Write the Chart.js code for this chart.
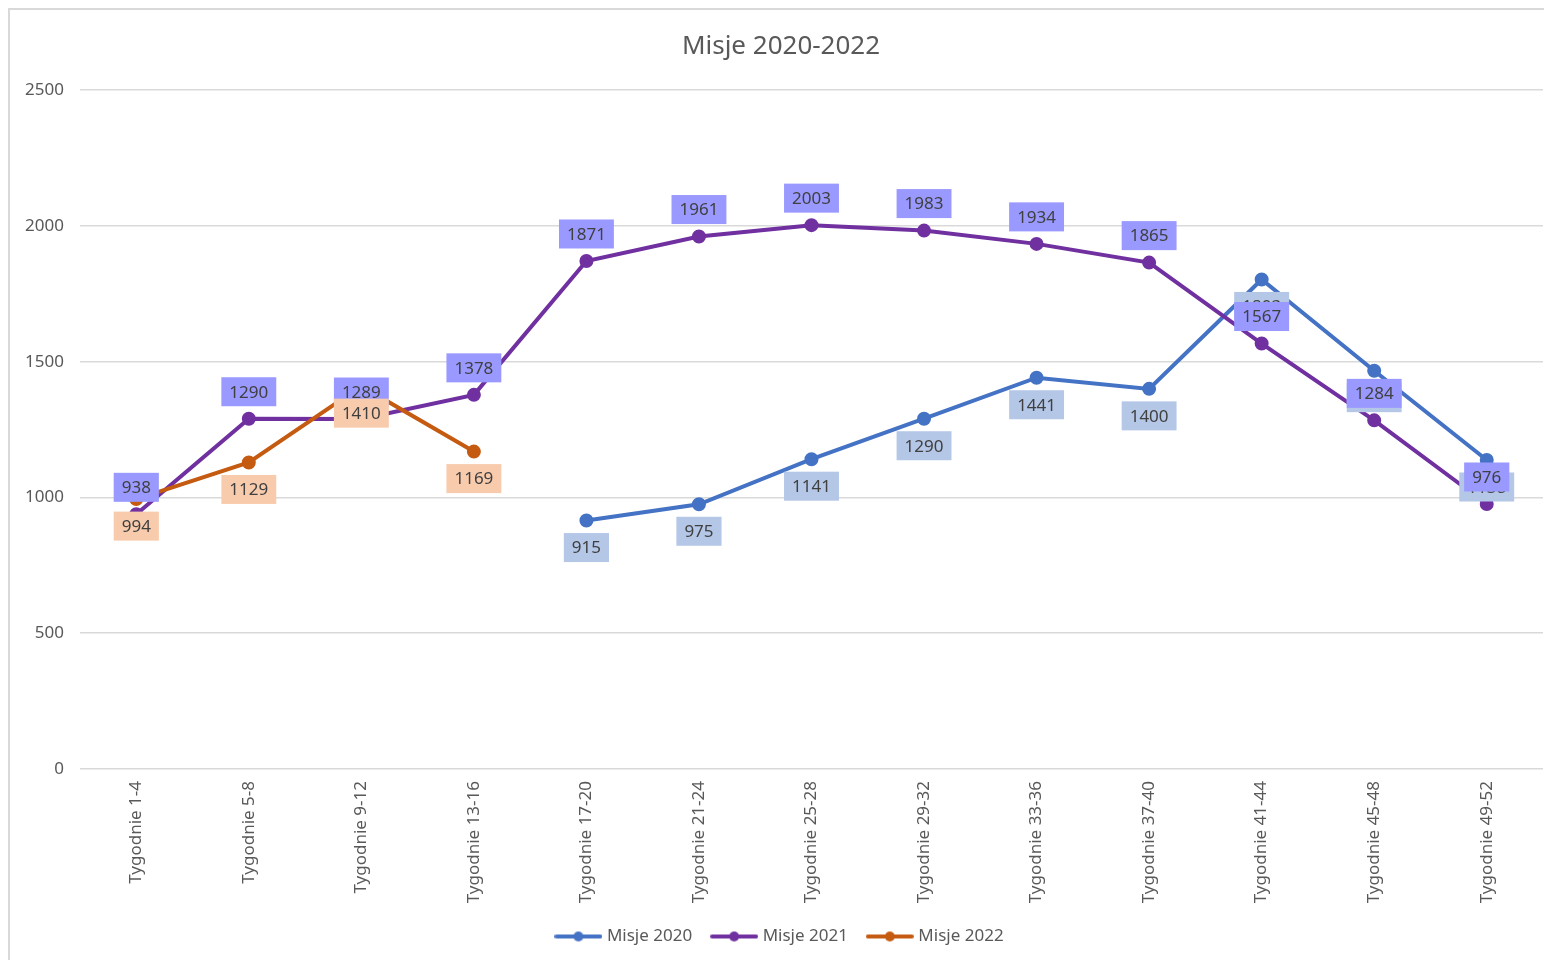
<!DOCTYPE html>
<html>
<head>
<meta charset="utf-8">
<script src="https://cdn.jsdelivr.net/npm/chart.js@4/dist/chart.umd.min.js"></script>
<style>
  html, body { margin: 0; padding: 0; background: #ffffff; overflow: hidden; }
  #ramka { position: absolute; left: 8px; top: 8px; width: 1600px; height: 1000px;
           border-left: 2px solid #d9d9d9; border-top: 2px solid #d9d9d9; }
  #wrap { position: absolute; left: 0; top: 0; width: 1552px; height: 960px; }
</style>
</head>
<body>
<div id="ramka"></div>
<div id="wrap"><canvas id="wykres"></canvas></div>
<script>
const kategorie = ["Tygodnie 1-4", "Tygodnie 5-8", "Tygodnie 9-12", "Tygodnie 13-16",
  "Tygodnie 17-20", "Tygodnie 21-24", "Tygodnie 25-28", "Tygodnie 29-32",
  "Tygodnie 33-36", "Tygodnie 37-40", "Tygodnie 41-44", "Tygodnie 45-48", "Tygodnie 49-52"];

const misje2020 = [null, null, null, null, 915, 975, 1141, 1290, 1441, 1400, 1803, 1467, 1138];
const misje2021 = [938, 1290, 1289, 1378, 1871, 1961, 2003, 1983, 1934, 1865, 1567, 1284, 976];
const misje2022 = [994, 1129, 1410, 1169, null, null, null, null, null, null, null, null, null];

const yTicks = [0, 500, 1000, 1500, 2000, 2500];

const kolory = ["#4472C4", "#7030A0", "#C55A11"];
const tlaEtykiet = ["#B4C7E7", "#9999FF", "#F8CBAD"];
// etykiety: -1 nad punktem, 1 pod punktem
const polozenie = [1, -1, 1];

const FONT = "'Noto Sans', 'Open Sans', sans-serif";

// znacznik legendy: linia z kropka
function znacznik(kolor) {
  const c = document.createElement("canvas");
  c.width = 48; c.height = 12;
  const g = c.getContext("2d");
  g.strokeStyle = kolor;
  g.lineWidth = 4;
  g.lineCap = "round";
  g.beginPath();
  g.moveTo(2, 6); g.lineTo(46, 6);
  g.stroke();
  g.fillStyle = kolor;
  g.beginPath();
  g.arc(24, 6, 5, 0, Math.PI * 2);
  g.fill();
  return c;
}
const znaczniki = kolory.map(znacznik);

// etykiety danych (jak w Excelu)
const etykiety = {
  id: "etykiety",
  afterDatasetsDraw(chart) {
    const ctx = chart.ctx;
    ctx.save();
    ctx.font = "17px " + FONT;
    ctx.textAlign = "center";
    ctx.textBaseline = "middle";
    chart.data.datasets.forEach((ds, i) => {
      const meta = chart.getDatasetMeta(i);
      meta.data.forEach((pt, j) => {
        const v = ds.data[j];
        if (v === null || v === undefined) return;
        const txt = String(v);
        const w = ctx.measureText(txt).width + 16;
        const h = 29;
        const cy = pt.y + polozenie[i] * 27;
        ctx.fillStyle = tlaEtykiet[i];
        ctx.fillRect(pt.x - w / 2, cy - h / 2, w, h);
        ctx.fillStyle = "#404040";
        ctx.fillText(txt, pt.x, cy + 1);
      });
    });
    ctx.restore();
  }
};

function seria(nazwa, dane, i) {
  return {
    label: nazwa,
    data: dane,
    borderColor: kolory[i],
    backgroundColor: kolory[i],
    pointBackgroundColor: kolory[i],
    pointBorderColor: kolory[i],
    borderWidth: 4,
    pointRadius: 5,
    pointHoverRadius: 5,
    tension: 0,
    spanGaps: false,
    order: 3 - i
  };
}

new Chart(document.getElementById("wykres"), {
  type: "line",
  data: {
    labels: kategorie,
    datasets: [
      seria("Misje 2020", misje2020, 0),
      seria("Misje 2021", misje2021, 1),
      seria("Misje 2022", misje2022, 2)
    ]
  },
  plugins: [etykiety],
  options: {
    responsive: true,
    maintainAspectRatio: false,
    animation: false,
    layout: { padding: { left: 10, right: 0, top: 0, bottom: 5 } },
    plugins: {
      tooltip: { enabled: false },
      title: {
        display: true,
        text: "Misje 2020-2022",
        color: "#595959",
        font: { family: FONT, size: 26, weight: "normal" },
        padding: { top: 31, bottom: 28 }
      },
      legend: {
        position: "bottom",
        labels: {
          color: "#595959",
          font: { family: FONT, size: 17 },
          usePointStyle: true,
          pointStyleWidth: 40,
          padding: 22,
          sort: (a, b) => a.datasetIndex - b.datasetIndex,
          generateLabels(chart) {
            const items = Chart.defaults.plugins.legend.labels.generateLabels(chart);
            items.forEach(it => { it.pointStyle = znaczniki[it.datasetIndex]; });
            return items;
          }
        }
      }
    },
    scales: {
      x: {
        offset: true,
        grid: { display: false, drawTicks: false },
        border: { display: false },
        ticks: {
          color: "#595959",
          font: { family: FONT, size: 17 },
          minRotation: 90,
          maxRotation: 90,
          padding: 12
        },
        afterFit(scale) { scale.height = 137; }
      },
      y: {
        min: 0,
        max: 2500,
        afterBuildTicks(scale) { scale.ticks = yTicks.map(v => ({ value: v })); },
        grid: { color: "#d9d9d9", lineWidth: 1.5, drawTicks: false },
        border: { display: false },
        ticks: {
          color: "#595959",
          font: { family: FONT, size: 17 },
          padding: 16,
          callback: v => String(v)
        },
        afterFit(scale) { scale.width = 70; }
      }
    }
  }
});
</script>
</body>
</html>
